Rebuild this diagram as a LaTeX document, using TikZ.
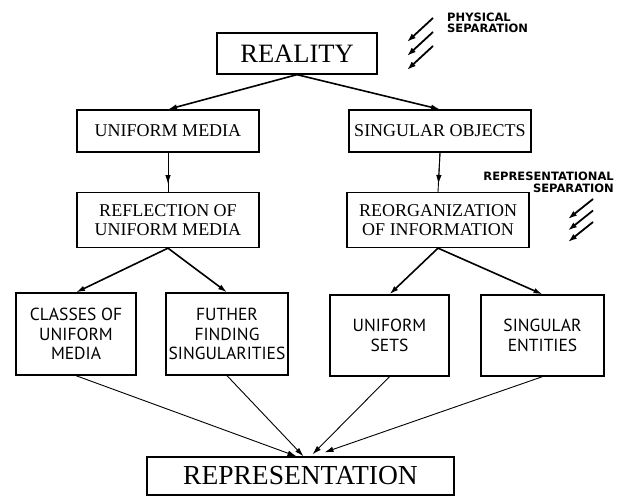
\documentclass[tikz,border=0pt]{standalone}
\usepackage{fontspec}
\setmainfont{Liberation Serif}
\newfontfamily\labelfont{PT Sans}
\newfontfamily\notefont{DejaVu Sans}
\usepackage{tikz}
\usetikzlibrary{arrows.meta}
\usetikzlibrary{calc}

\begin{document}
\begin{tikzpicture}[x=1pt, y=-1pt,
    >={Latex[length=9pt,width=5.5pt]},
    box/.style={draw, line width=1.3pt, inner sep=1pt, align=center,
        font=\fontsize{18}{19}\selectfont},
    bigbox/.style={box, font=\fontsize{26.5}{28}\selectfont},
    lowbox/.style={box, font=\labelfont\fontsize{17.5}{19.5}\selectfont},
    flow/.style={->, line width=1.6pt},
    feed/.style={->, line width=0.9pt},
    sepnote/.style={font=\notefont\bfseries\fontsize{11.5}{11.5}\selectfont, inner sep=0pt},
    separrow/.style={->, line width=1.8pt, >={Latex[length=9pt,width=6pt]}}]
    \useasboundingbox (0,0) rectangle (631,498);
    % boxes
    \node[bigbox, minimum width=160pt, minimum height=41pt] (reality) at (297,53.5) {REALITY};
    \node[box, minimum width=182pt, minimum height=42pt] (uniform) at (168,131) {UNIFORM MEDIA};
    \node[box, minimum width=182pt, minimum height=42pt] (singular) at (440,131) {SINGULAR OBJECTS};
    \node[box, minimum width=182pt, minimum height=55pt] (reflect) at (168,220) {REFLECTION OF\\UNIFORM MEDIA};
    \node[box, minimum width=182pt, minimum height=55pt] (reorg) at (438,220) {REORGANIZATION\\OF INFORMATION};
    \node[lowbox, minimum width=120pt, minimum height=82pt] (classes) at (76,334) {CLASSES OF\\UNIFORM\\MEDIA};
    \node[lowbox, minimum width=122pt, minimum height=82pt] (further) at (227,334) {FUTHER\\FINDING\\SINGULARITIES};
    \node[lowbox, minimum width=119pt, minimum height=81pt] (usets) at (389.5,335.5) {UNIFORM\\SETS};
    \node[lowbox, minimum width=123pt, minimum height=81pt] (sents) at (542.5,335.5) {SINGULAR\\ENTITIES};
    \node[bigbox, font=\fontsize{27.5}{29}\selectfont, minimum width=307pt, minimum height=38pt] (repr) at (300.5,476) {REPRESENTATION};
    % side notes
    \node[sepnote, anchor=north west, align=left] (physnote) at (447,12.5) {PHYSICAL\\SEPARATION};
    \node[sepnote, anchor=north east, align=right] (repnote) at (614,172) {REPRESENTATIONAL\\SEPARATION};
    \foreach \dy in {0,14,28}
        \draw[separrow] ($(physnote.north west)+(-14,5.5+\dy)$) -- ($(physnote.north west)+(-40,29.5+\dy)$);
    \foreach \dy in {0,11.5,23}
        \draw[separrow] ($(repnote.north east)+(-21,27+\dy)$) -- ($(repnote.north east)+(-46,47+\dy)$);
    % connectors
    \draw[flow] (reality.south) -- (uniform.north);
    \draw[flow] (reality.south) -- (singular.north);
    \draw[line width=0.9pt] (uniform.south) -- (reflect.north);
    \draw[feed] (uniform.south) -- ($(uniform.south)!0.8!(reflect.north)$);
    \draw[line width=0.9pt] (singular.south) -- (reorg.north);
    \draw[feed] (singular.south) -- ($(singular.south)!0.8!(reorg.north)$);
    \draw[flow] (reflect.south) -- (classes.north);
    \draw[flow] (reflect.south) -- (further.north);
    \draw[flow] (reorg.south) -- (usets.north);
    \draw[flow] (reorg.south) -- (sents.north);
    \draw[feed] (classes.south) -- ($(repr.north)+(-4,0)$);
    \draw[feed] (further.south) -- ($(repr.north)+(3,0)$);
    \draw[feed] (usets.south) -- ($(repr.north)+(12,-2)$);
    \draw[feed] (sents.south) -- ($(repr.north)+(24,-4)$);
\end{tikzpicture}
\end{document}
